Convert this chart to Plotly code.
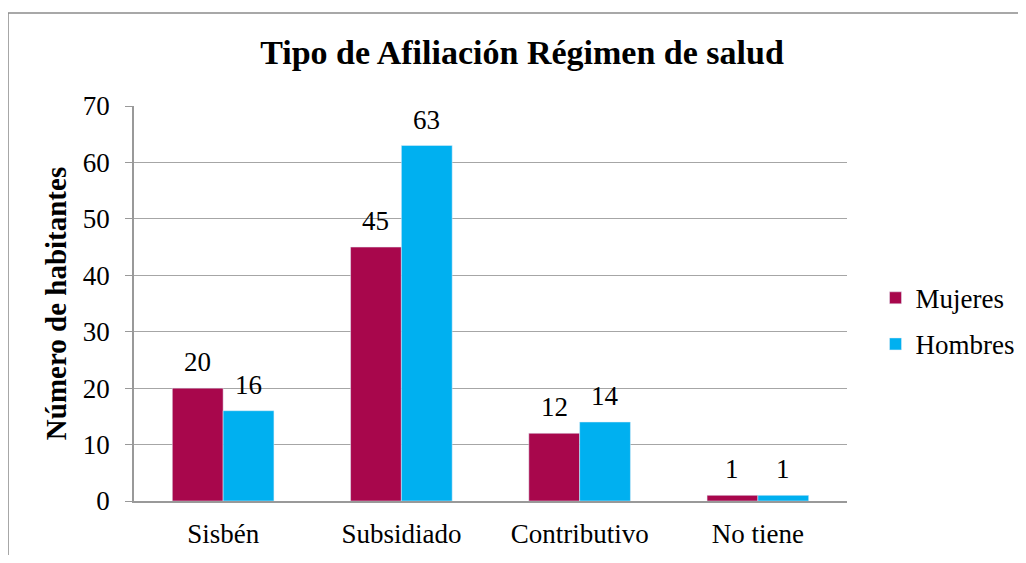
import plotly.graph_objects as go

categories = ["Sisbén", "Subsidiado", "Contributivo", "No tiene"]
mujeres = [20, 45, 12, 1]
hombres = [16, 63, 14, 1]
y_ticks = [0, 10, 20, 30, 40, 50, 60, 70]

FONT = "Liberation Serif"

fig = go.Figure()
fig.add_trace(go.Bar(name="Mujeres", x=categories, y=mujeres,
                     marker_color="#A8074C", legendgroup="m"))
fig.add_trace(go.Bar(name="Hombres", x=categories, y=hombres,
                     marker_color="#00B0F0", legendgroup="h"))

# value labels above each bar
for series, shift in ((mujeres, -25.4), (hombres, 25.4)):
    for cat, val in zip(categories, series):
        fig.add_annotation(x=cat, y=val, text=str(val), showarrow=False,
                           xref="x", yref="y", xshift=shift, yshift=9,
                           yanchor="bottom", xanchor="center",
                           font=dict(family=FONT, size=27, color="black"))

fig.update_layout(
    width=1026, height=547,
    margin=dict(l=126, r=187, t=98, b=54),
    paper_bgcolor="white", plot_bgcolor="white",
    font=dict(family=FONT, size=27, color="black"),
    barmode="group", bargap=0.43, bargroupgap=0,
    title=dict(text="<b>Tipo de Afiliación Régimen de salud</b>",
               x=0.501, xanchor="center", y=0.92, yanchor="middle",
               font=dict(family=FONT, size=34, color="black")),
    legend=dict(x=1.04, xanchor="left", y=0.455, yanchor="middle",
                font=dict(family=FONT, size=27, color="black"), tracegroupgap=8,
                bgcolor="rgba(0,0,0,0)"),
    showlegend=True,
    xaxis=dict(showline=True, linecolor="#999999", linewidth=1.5, automargin=False,
               ticks="", tickfont=dict(family=FONT, size=27, color="black"),
               ticklabelstandoff=8),
    yaxis=dict(range=[0, 70], tickvals=y_ticks, showgrid=True, automargin=False,
               gridcolor="#A6A6A6", gridwidth=1.2,
               showline=True, linecolor="#999999", linewidth=1.5,
               ticks="outside", ticklen=7, tickcolor="#999999",
               tickfont=dict(family=FONT, size=27, color="black"), ticklabelstandoff=10,
               title=dict(text="<b>Número de habitantes</b>",
                          font=dict(family=FONT, size=29, color="black"), standoff=8)),
)

fig.add_shape(type="rect", xref="paper", yref="paper",
              x0=-0.1767, x1=1.6, y0=-0.5, y1=1.2354,
              line=dict(color="#8C8C8C", width=1.5), fillcolor="rgba(0,0,0,0)",
              layer="below")

fig.write_html("out.html")
